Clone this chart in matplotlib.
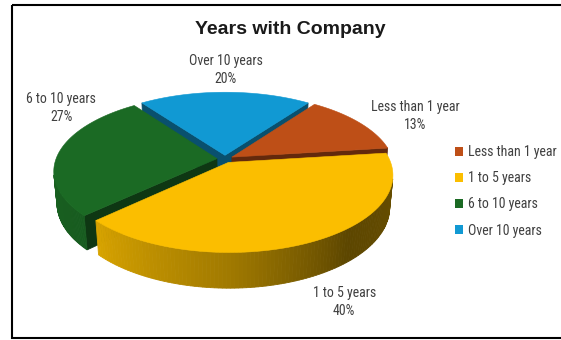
import numpy as np
import matplotlib
matplotlib.use('Agg')
import matplotlib.pyplot as plt
from matplotlib import font_manager
from matplotlib.patches import Polygon, Patch, Rectangle
from matplotlib.colors import to_rgb

TITLE = 'Years with Company'
CATEGORIES = ['Less than 1 year', '1 to 5 years', '6 to 10 years', 'Over 10 years']
PERCENTS = [13, 40, 27, 20]
COLORS = ['#BE4F17', '#FBBE00', '#1B6A24', '#1199D3']

# look of the 3d pie (pixel units, y grows downwards)
START_ANGLE = 36.0      # degrees, clockwise from the back of the pie
TILT = np.radians(27.5)
DIST = 5.5              # camera distance, in pie radii
DEPTH = 0.225
EXPLODE = 0.05
CENTER = (225, 159)
SCALE = 161
# where each data label sits relative to the rim of its slice
LABEL_SHIFT = [(56, -6), (36, 24), (2, -44), (1, -22)]

TEXT_COLOR = '#404040'

CAM = np.array([0.0, -DIST * np.cos(TILT), DIST * np.sin(TILT)])


def pick_label_font():
    """narrow font like the original if there is one"""
    names = {f.name for f in font_manager.fontManager.ttflist}
    for name in ['Liberation Sans Narrow', 'Roboto Condensed', 'Open Sans Condensed']:
        if name in names:
            return [name, 'DejaVu Sans'], 10
    return ['Liberation Sans', 'DejaVu Sans'], 8.8


def project(x, y, z):
    v = y * np.sin(TILT) + z * np.cos(TILT)
    w = y * np.cos(TILT) - z * np.sin(TILT)
    f = DIST / (DIST + w)
    return CENTER[0] + SCALE * x * f, CENTER[1] - SCALE * v * f


def shade(color, k):
    return tuple(np.clip(np.array(to_rgb(color)) * k, 0, 1))


def wall_light(theta):
    t = theta % 360
    return np.interp(t, [0, 90, 110, 140, 180, 227, 270, 360],
                     [0.45, 0.45, 0.40, 0.37, 0.64, 0.86, 0.92, 0.92])


def facing(normal, point):
    return np.dot(normal, CAM - point) > 0


def unit(deg):
    r = np.radians(deg)
    return np.sin(r), np.cos(r)


def main():
    label_font, label_size = pick_label_font()

    fig = plt.figure(figsize=(5.61, 3.40), dpi=100)
    ax = fig.add_axes([0, 0, 1, 1])
    ax.set_xlim(0, 561)
    ax.set_ylim(340, 0)
    ax.axis('off')

    frac = np.array(PERCENTS, float) / sum(PERCENTS)
    edges = START_ANGLE + 360 * np.concatenate([[0], np.cumsum(frac)])

    slices = []
    for i in range(len(PERCENTS)):
        t0, t1 = edges[i], edges[i + 1]
        mid = (t0 + t1) / 2
        sx, sy = unit(mid)
        slices.append((i, t0, t1, mid, EXPLODE * sx, EXPLODE * sy))

    # far slices first
    order = sorted(slices, key=lambda s: -np.cos(np.radians(s[3])))
    for i, t0, t1, mid, ox, oy in order:
        col = COLORS[i]
        # radial cut faces
        for t, sign in [(t0, -1), (t1, 1)]:
            nx, ny = unit(t + sign * 90)
            rx, ry = unit(t)
            c = np.array([ox + rx / 2, oy + ry / 2, -DEPTH / 2])
            if not facing(np.array([nx, ny, 0]), c):
                continue
            pts = [project(ox, oy, 0), project(ox + rx, oy + ry, 0),
                   project(ox + rx, oy + ry, -DEPTH), project(ox, oy, -DEPTH)]
            fc = shade(col, 0.52)
            ax.add_patch(Polygon(pts, closed=True, fc=fc, ec=fc, lw=0.5, zorder=2))
        # outer wall, split into strips for the light gradient
        th = np.linspace(t0, t1, 120)
        for a, b in zip(th[:-1], th[1:]):
            m = (a + b) / 2
            nx, ny = unit(m)
            p = np.array([ox + nx, oy + ny, -DEPTH / 2])
            if not facing(np.array([nx, ny, 0]), p):
                continue
            ax_, ay_ = unit(a)
            bx_, by_ = unit(b)
            pts = [project(ox + ax_, oy + ay_, 0), project(ox + bx_, oy + by_, 0),
                   project(ox + bx_, oy + by_, -DEPTH), project(ox + ax_, oy + ay_, -DEPTH)]
            fc = shade(col, wall_light(m))
            ax.add_patch(Polygon(pts, closed=True, fc=fc, ec=fc, lw=0.6, zorder=2))

    # top faces
    for i, t0, t1, mid, ox, oy in slices:
        th = np.linspace(t0, t1, 150)
        xs, ys = unit(th)
        pts = [project(ox, oy, 0)] + [project(ox + a, oy + b, 0) for a, b in zip(xs, ys)]
        ax.add_patch(Polygon(pts, closed=True, fc=COLORS[i], ec=COLORS[i], lw=0.4, zorder=3))

        # data label
        mx, my = unit(mid)
        z = 0 if my > 0 else -DEPTH
        px, py = project(ox + mx, oy + my, z)
        dx, dy = LABEL_SHIFT[i]
        ax.text(px + dx, py + dy, f'{CATEGORIES[i]}\n{PERCENTS[i]}%', ha='center', va='center',
                fontsize=label_size, color=TEXT_COLOR, family=label_font, linespacing=1.35,
                zorder=5)

    ax.text(290, 29, TITLE, ha='center', va='center', fontsize=14, fontweight='bold',
            color='#1a1a1a', family=['Liberation Sans', 'DejaVu Sans'])

    handles = [Patch(fc=c, ec='none') for c in COLORS]
    ax.legend(handles, CATEGORIES, loc='upper left', bbox_to_anchor=(455 / 561, 1 - 145 / 340),
              frameon=False, borderpad=0, borderaxespad=0, handlelength=0.6, handleheight=0.6,
              handletextpad=0.3, labelspacing=0.88,
              prop={'family': label_font, 'size': label_size}, labelcolor=TEXT_COLOR)

    ax.add_patch(Rectangle((12, 5), 620, 332.5, fill=False, ec='black', lw=1.5, zorder=6))

    fig.savefig('out.png', dpi=100)


if __name__ == '__main__':
    main()
